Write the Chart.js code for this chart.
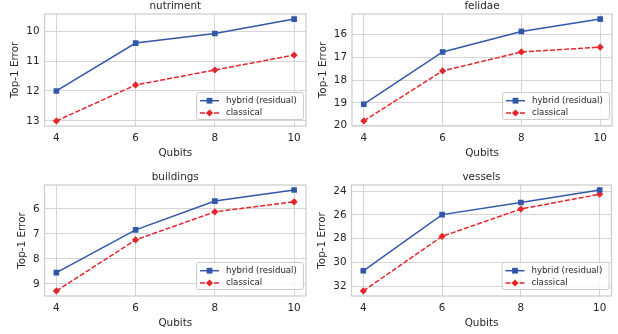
<!DOCTYPE html>
<html>
<head>
<meta charset="utf-8">
<script src="https://cdn.jsdelivr.net/npm/chart.js@4.4.1/dist/chart.umd.min.js"></script>
<style>
  html, body { margin: 0; padding: 0; background: #ffffff; }
  #wrap { position: relative; width: 618px; height: 334px; overflow: hidden; }
  #wrap canvas { position: absolute; left: 0; top: 0; }
</style>
</head>
<body>
<div id="wrap">
  <canvas id="c1" width="618" height="334"></canvas>
  <canvas id="c2" width="618" height="334"></canvas>
  <canvas id="c3" width="618" height="334"></canvas>
  <canvas id="c4" width="618" height="334"></canvas>
</div>
<script>
// ---------------- data ----------------
const qubits = [4, 6, 8, 10];
const xTicks = [4, 6, 8, 10];
const seriesNames = ["hybrid (residual)", "classical"];

const titles = ["nutriment", "felidae", "buildings", "vessels"];

const nutrimentHybrid    = [12.00, 10.40, 10.08, 9.60];
const nutrimentClassical = [13.00, 11.80, 11.30, 10.80];
const nutrimentTicks     = [10, 11, 12, 13];

const felidaeHybrid      = [19.06, 16.77, 15.87, 15.33];
const felidaeClassical   = [19.79, 17.60, 16.77, 16.56];
const felidaeTicks       = [16, 17, 18, 19, 20];

const buildingsHybrid    = [8.55, 6.84, 5.69, 5.25];
const buildingsClassical = [9.28, 7.24, 6.12, 5.72];
const buildingsTicks     = [6, 7, 8, 9];

const vesselsHybrid      = [30.70, 25.97, 24.95, 23.90];
const vesselsClassical   = [32.40, 27.80, 25.50, 24.25];
const vesselsTicks       = [24, 26, 28, 30, 32];

// ---------------- style ----------------
const FONT = "'DejaVu Sans', 'Liberation Sans', sans-serif";
const FS = 10.4;     // ticks / labels / titles
const LFS = 8.6;     // legend
const TEXT = "#262626";
const GRID = "#d5d5d5";
const SPINE = "#cccccc";
const BLUE = "#3357a8";
const RED = "#e6242b";
const W = 618, H = 334;
const YW = 44;   // forced y-axis box width
const XH = 40;   // forced x-axis box height

const panels = [
  { id: "c1", title: titles[0], h: nutrimentHybrid, c: nutrimentClassical, yt: nutrimentTicks,
    rect: { l: 44.5, t: 14, r: 306, b: 126 }, yOff: 29 },
  { id: "c2", title: titles[1], h: felidaeHybrid, c: felidaeClassical, yt: felidaeTicks,
    rect: { l: 352, t: 14, r: 612, b: 126 }, yOff: 29 },
  { id: "c3", title: titles[2], h: buildingsHybrid, c: buildingsClassical, yt: buildingsTicks,
    rect: { l: 44.5, t: 185, r: 306, b: 296 }, yOff: 22 },
  { id: "c4", title: titles[3], h: vesselsHybrid, c: vesselsClassical, yt: vesselsTicks,
    rect: { l: 351.5, t: 185, r: 611.5, b: 296 }, yOff: 29 }
];

function rangeWithMargin(vals) {
  const mn = Math.min(...vals), mx = Math.max(...vals);
  const m = (mx - mn) * 0.05;
  return [mn - m, mx + m];
}

// spines + title + legend
const decor = {
  id: "decor",
  beforeDatasetsDraw(chart, args, opts) {
    const a = chart.chartArea, ctx = chart.ctx;
    ctx.save();
    ctx.strokeStyle = SPINE;
    ctx.lineWidth = 1.2;
    ctx.strokeRect(a.left, a.top, a.right - a.left, a.bottom - a.top);
    ctx.restore();
  },
  afterDraw(chart, args, opts) {
    const a = chart.chartArea, ctx = chart.ctx;
    ctx.save();
    // title
    ctx.fillStyle = TEXT;
    ctx.font = FS + "px " + FONT;
    ctx.textAlign = "center";
    ctx.textBaseline = "middle";
    ctx.fillText(opts.title, (a.left + a.right) / 2, a.top - 7.5);
    // legend
    const bw = 107, bh = 27;
    const bx = a.right - 3 - bw, by = a.bottom - 7 - bh;
    ctx.beginPath();
    if (ctx.roundRect) ctx.roundRect(bx + 0.5, by + 0.5, bw, bh, 2.5); else ctx.rect(bx + 0.5, by + 0.5, bw, bh);
    ctx.fillStyle = "rgba(255,255,255,0.8)";
    ctx.fill();
    ctx.strokeStyle = SPINE;
    ctx.lineWidth = 1;
    ctx.stroke();
    const ys = [by + 8.7, by + 21];
    chart.data.datasets.forEach((ds, i) => {
      const y = ys[i];
      ctx.save();
      ctx.strokeStyle = ds.borderColor;
      ctx.lineWidth = ds.borderWidth;
      ctx.setLineDash(ds.borderDash || []);
      ctx.beginPath();
      ctx.moveTo(bx + 4, y);
      ctx.lineTo(bx + 23, y);
      ctx.stroke();
      ctx.restore();
      ctx.fillStyle = ds.pointBackgroundColor;
      ctx.beginPath();
      if (ds.pointStyle === "rect") {
        const s = 2.9;
        ctx.rect(bx + 13.5 - s, y - s, 2 * s, 2 * s);
      } else {
        const r = 3.6;
        ctx.moveTo(bx + 13.5 - r, y); ctx.lineTo(bx + 13.5, y - r);
        ctx.lineTo(bx + 13.5 + r, y); ctx.lineTo(bx + 13.5, y + r);
        ctx.closePath();
      }
      ctx.fill();
      ctx.fillStyle = TEXT;
      ctx.font = LFS + "px " + FONT;
      ctx.textAlign = "left";
      ctx.textBaseline = "middle";
      ctx.fillText(ds.label, bx + 30, y);
    });
    ctx.restore();
  }
};

panels.forEach(p => {
  const [ymin, ymax] = rangeWithMargin(p.h.concat(p.c));
  const [xmin, xmax] = rangeWithMargin(qubits);
  new Chart(document.getElementById(p.id), {
    type: "line",
    data: {
      datasets: [
        {
          label: seriesNames[0],
          data: qubits.map((q, i) => ({ x: q, y: p.h[i] })),
          borderColor: BLUE, backgroundColor: BLUE,
          pointBackgroundColor: BLUE, pointBorderColor: BLUE,
          borderWidth: 1.5, pointStyle: "rect", pointRadius: 4.0, pointBorderWidth: 0,
          tension: 0, fill: false
        },
        {
          label: seriesNames[1],
          data: qubits.map((q, i) => ({ x: q, y: p.c[i] })),
          borderColor: RED, backgroundColor: RED,
          pointBackgroundColor: RED, pointBorderColor: RED,
          borderWidth: 1.5, borderDash: [5, 2],
          pointStyle: "rectRot", pointRadius: 3.6, pointBorderWidth: 0,
          tension: 0, fill: false
        }
      ]
    },
    options: {
      responsive: false,
      animation: false,
      devicePixelRatio: 1,
      events: [],
      layout: {
        padding: {
          left: p.rect.l - YW,
          top: p.rect.t,
          right: W - p.rect.r,
          bottom: H - p.rect.b - XH
        }
      },
      plugins: {
        legend: { display: false },
        title: { display: false },
        tooltip: { enabled: false },
        decor: { title: p.title }
      },
      scales: {
        x: {
          type: "linear", min: xmin, max: xmax,
          afterBuildTicks: s => { s.ticks = xTicks.map(v => ({ value: v })); },
          afterFit: s => { s.height = XH; },
          grid: { color: GRID, lineWidth: 1, drawTicks: false },
          border: { display: false },
          ticks: { color: TEXT, font: { family: FONT, size: FS }, padding: 6, maxRotation: 0,
                   callback: v => String(v) },
          title: { display: true, text: "Qubits", color: TEXT, font: { family: FONT, size: FS },
                   padding: { top: 0, bottom: 6 } }
        },
        y: {
          type: "linear", reverse: true, min: ymin, max: ymax,
          afterBuildTicks: s => { s.ticks = p.yt.map(v => ({ value: v })); },
          afterFit: s => { s.width = YW; },
          grid: { color: GRID, lineWidth: 1, drawTicks: false },
          border: { display: false },
          ticks: { color: TEXT, font: { family: FONT, size: FS }, padding: 5,
                   callback: v => String(v) },
          title: { display: true, text: "Top-1 Error", color: TEXT, font: { family: FONT, size: FS },
                   padding: { top: 38 - p.yOff, bottom: 0 } }
        }
      }
    },
    plugins: [decor]
  });
});
</script>
</body>
</html>
